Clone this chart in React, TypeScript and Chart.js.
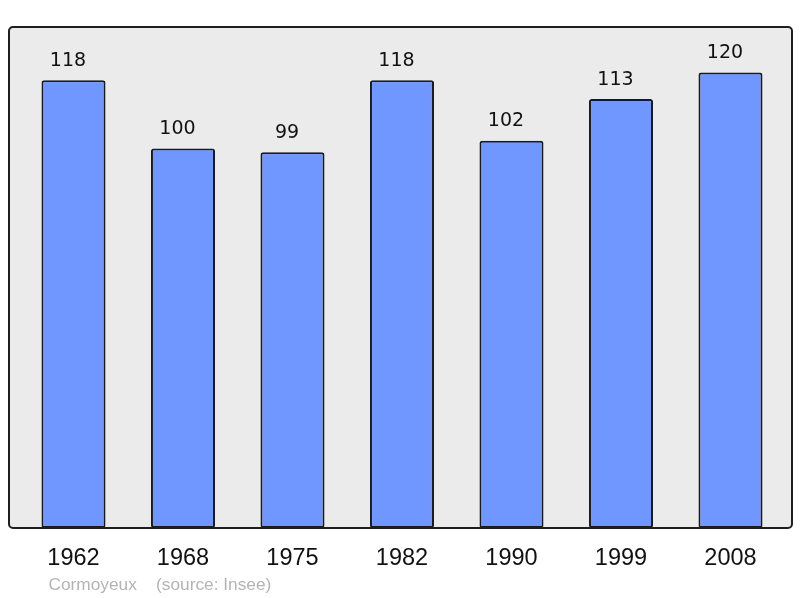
import React, { useEffect, useRef } from "react";
import { Chart, registerables } from "chart.js";

Chart.register(...registerables);

const years = ["1962", "1968", "1975", "1982", "1990", "1999", "2008"];
const population = [118, 100, 99, 118, 102, 113, 120];
const commune = "Cormoyeux";
const sourceText = "(source: Insee)";
const yMax = 132;

export default function App() {
  const ref = useRef<HTMLCanvasElement>(null);

  useEffect(() => {
    if (!ref.current) return;

    const plotBox = {
      id: "plotBox",
      beforeDraw(chart: any) {
        const { ctx, chartArea: a } = chart;
        ctx.save();
        ctx.fillStyle = "#ffffff";
        ctx.fillRect(0, 0, chart.width, chart.height);
        ctx.beginPath();
        ctx.roundRect(a.left - 9.75, a.top, a.right - a.left + 16.5, a.bottom - a.top, 4);
        ctx.fillStyle = "#ebebeb";
        ctx.fill();
        ctx.restore();
      },
      afterDatasetsDraw(chart: any) {
        const { ctx, chartArea: a } = chart;
        ctx.save();
        ctx.beginPath();
        ctx.roundRect(a.left - 9.75, a.top, a.right - a.left + 16.5, a.bottom - a.top, 4);
        ctx.lineWidth = 2;
        ctx.strokeStyle = "#1e1e1e";
        ctx.stroke();

        const meta = chart.getDatasetMeta(0);
        ctx.font = "19px 'DejaVu Sans'";
        ctx.fillStyle = "#111111";
        ctx.textAlign = "center";
        ctx.textBaseline = "alphabetic";
        meta.data.forEach((bar: any, i: number) => {
          ctx.fillText(String(population[i]), bar.x - 5.5, bar.y - 14.5);
        });

        ctx.font = "17.3px 'Liberation Sans'";
        ctx.fillStyle = "#b4b4b4";
        ctx.textAlign = "left";
        ctx.fillText(commune + "    " + sourceText, 48.5, 590);
        ctx.restore();
      },
    };

    const chart = new Chart(ref.current, {
      type: "bar",
      data: {
        labels: years,
        datasets: [
          {
            data: population,
            backgroundColor: "#7096ff",
            borderColor: "#1a1a1a",
            borderWidth: 2,
            borderRadius: 2.5,
            borderSkipped: false,
            barPercentage: 0.585,
            categoryPercentage: 1,
          },
        ],
      },
      options: {
        responsive: false,
        animation: false,
        devicePixelRatio: 1,
        layout: { padding: { left: 18.75, right: 14.75, top: 27, bottom: 0 } },
        plugins: {
          legend: { display: false },
          tooltip: { enabled: false },
          title: { display: false },
        },
        scales: {
          y: {
            display: false,
            min: 0,
            max: yMax,
          },
          x: {
            grid: { display: false, drawTicks: false },
            border: { display: false },
            ticks: {
              color: "#111111",
              font: { family: "'Liberation Sans'", size: 23.5 },
              padding: 16,
              maxRotation: 0,
            },
            afterFit(scale: any) {
              scale.height = 70;
            },
          },
        },
      },
      plugins: [plotBox],
    });

    return () => chart.destroy();
  }, []);

  return (
    <div style={{ position: "fixed", left: 0, top: 0, width: 800, height: 598 }}>
      <canvas ref={ref} width={800} height={598} />
    </div>
  );
}
